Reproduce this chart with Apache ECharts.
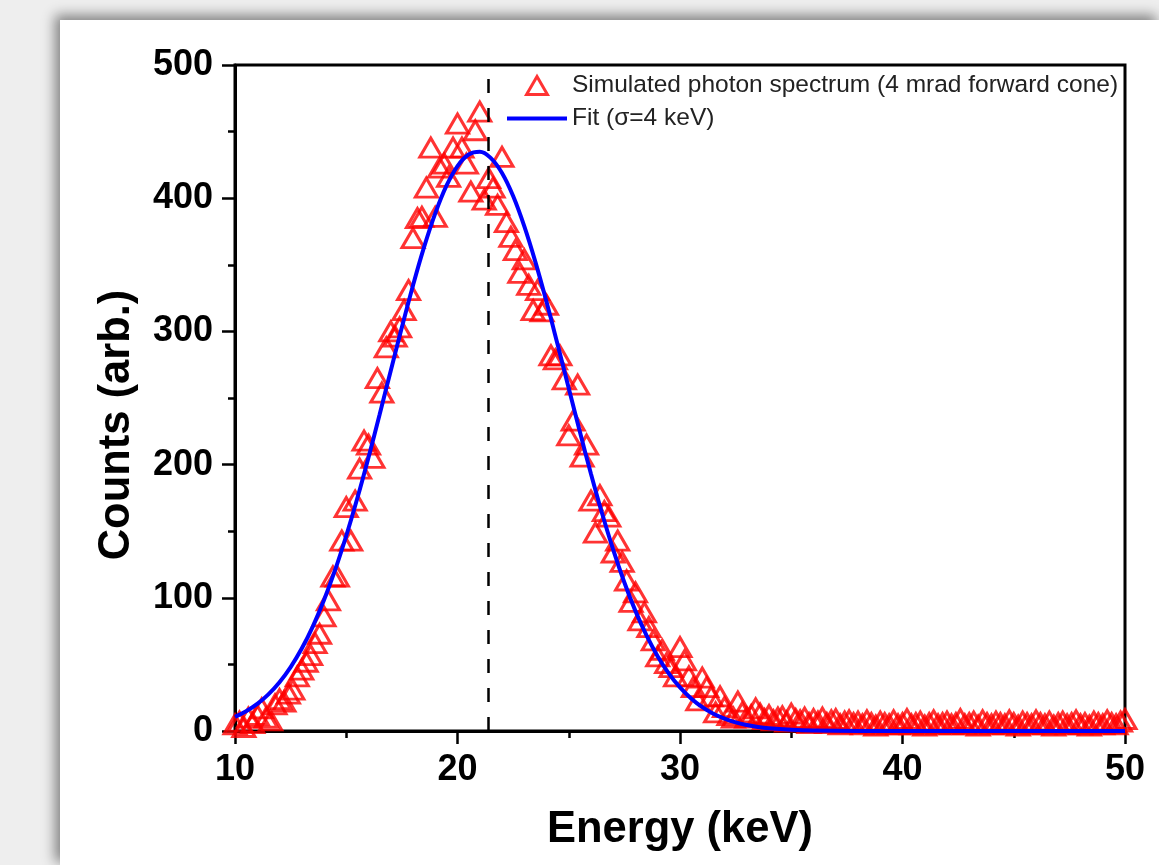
<!DOCTYPE html>
<html>
<head>
<meta charset="utf-8">
<title>Photon spectrum</title>
<script src="https://cdn.jsdelivr.net/npm/echarts@6/dist/echarts.min.js"></script>
<style>
    html, body { margin: 0; padding: 0; background: #eeeeee; overflow: hidden; }
    #panel {
        position: absolute; left: 60px; top: 20px; width: 1099px; height: 845px;
        background: #ffffff;
        box-shadow: -4px -4px 12px 1px rgba(0, 0, 0, 0.45);
    }
    #main { position: absolute; left: 0; top: 0; width: 1159px; height: 865px; }
</style>
</head>
<body>
<div id="panel"></div>
<div id="main"></div>
<script>
// 模拟光子能谱 (每 0.2 keV 一个点)
var energy = [
    10.0, 10.2, 10.4, 10.6, 10.8, 11.0, 11.2, 11.4, 11.6, 11.8,
    12.0, 12.2, 12.4, 12.6, 12.8, 13.0, 13.2, 13.4, 13.6, 13.8,
    14.0, 14.2, 14.4, 14.6, 14.8, 15.0, 15.2, 15.4, 15.6, 15.8,
    16.0, 16.2, 16.4, 16.6, 16.8, 17.0, 17.2, 17.4, 17.6, 17.8,
    18.0, 18.2, 18.4, 18.6, 18.8, 19.0, 19.2, 19.4, 19.6, 19.8,
    20.0, 20.2, 20.4, 20.6, 20.8, 21.0, 21.2, 21.4, 21.6, 21.8,
    22.0, 22.2, 22.4, 22.6, 22.8, 23.0, 23.2, 23.4, 23.6, 23.8,
    24.0, 24.2, 24.4, 24.6, 24.8, 25.0, 25.2, 25.4, 25.6, 25.8,
    26.0, 26.2, 26.4, 26.6, 26.8, 27.0, 27.2, 27.4, 27.6, 27.8,
    28.0, 28.2, 28.4, 28.6, 28.8, 29.0, 29.2, 29.4, 29.6, 29.8,
    30.0, 30.2, 30.4, 30.6, 30.8, 31.0, 31.2, 31.4, 31.6, 31.8,
    32.0, 32.2, 32.4, 32.6, 32.8, 33.0, 33.2, 33.4, 33.6, 33.8,
    34.0, 34.2, 34.4, 34.6, 34.8, 35.0, 35.2, 35.4, 35.6, 35.8,
    36.0, 36.2, 36.4, 36.6, 36.8, 37.0, 37.2, 37.4, 37.6, 37.8,
    38.0, 38.2, 38.4, 38.6, 38.8, 39.0, 39.2, 39.4, 39.6, 39.8,
    40.0, 40.2, 40.4, 40.6, 40.8, 41.0, 41.2, 41.4, 41.6, 41.8,
    42.0, 42.2, 42.4, 42.6, 42.8, 43.0, 43.2, 43.4, 43.6, 43.8,
    44.0, 44.2, 44.4, 44.6, 44.8, 45.0, 45.2, 45.4, 45.6, 45.8,
    46.0, 46.2, 46.4, 46.6, 46.8, 47.0, 47.2, 47.4, 47.6, 47.8,
    48.0, 48.2, 48.4, 48.6, 48.8, 49.0, 49.2, 49.4, 49.6, 49.8,
    50.0
];
var counts = [
    5, 7, 3, 10, 6, 12, 17, 10, 8, 20,
    24, 22, 28, 31, 41, 46, 52, 57, 66, 73,
    86, 98, 116, 116, 143, 168, 143, 173, 197, 218,
    215, 205, 265, 254, 288, 300, 296, 303, 316, 331,
    370, 385, 386, 408, 438, 386, 423, 426, 416, 438,
    456, 438, 426, 405, 451, 465, 399, 415, 408, 395,
    431, 382, 371, 361, 344, 354, 335, 316, 331, 315,
    320, 282, 279, 282, 264, 222, 233, 260, 206, 215,
    173, 149, 177, 165, 161, 134, 143, 127, 113, 97,
    104, 83, 89, 78, 68, 56, 61, 51, 48, 41,
    63, 53, 41, 33, 23, 40, 33, 26, 14, 26,
    18, 12, 10, 22, 14, 10, 12, 17, 13, 9,
    12, 8, 10, 11, 7, 13, 9, 8, 10, 6,
    9, 7, 10, 6, 8, 9, 5, 7, 8, 6,
    7, 5, 8, 6, 4, 7, 6, 5, 8, 5,
    6, 9, 5, 6, 7, 4, 6, 8, 5, 6,
    7, 5, 6, 9, 5, 6, 7, 4, 8, 6,
    5, 7, 6, 5, 8, 6, 4, 7, 6, 5,
    8, 6, 5, 7, 4, 6, 7, 5, 6, 8,
    5, 6, 4, 7, 6, 5, 8, 6, 5, 7,
    9
];

// 拟合曲线 (σ=4 keV)
var fitEnergy = [
    10, 10.5, 11, 11.5, 12, 12.5, 13, 13.5, 14, 14.5,
    15, 15.5, 16, 16.5, 17, 17.5, 18, 18.5, 19, 19.5,
    20, 20.5, 21, 21.5, 22, 22.5, 23, 23.5, 24, 24.5,
    25, 25.5, 26, 26.5, 27, 27.5, 28, 28.5, 29, 29.5,
    30, 30.5, 31, 31.5, 32, 32.5, 33, 33.5, 34,
    35, 36, 38, 40, 45, 50
];
var fitCounts = [
    10.6, 14.8, 20.3, 27.5, 36.6, 48.0, 61.9, 78.6, 98.3, 120.9,
    146.6, 174.9, 205.4, 237.6, 270.5, 303.1, 334.5, 363.4, 388.6, 409.2,
    424.1, 432.8, 434.9, 430.1, 418.9, 401.6, 379.0, 352.2, 322.2, 290.1,
    257.3, 224.6, 193.0, 163.3, 136.0, 111.5, 90.0, 71.6, 56.0, 43.1,
    32.7, 24.4, 17.9, 13.0, 9.3, 6.5, 4.5, 3.0, 2.0,
    0.9, 0.3, 0, 0, 0, 0
];

// 虚线位置
var peakEnergy = 21.4;

var xTicks = [10, 20, 30, 40, 50];
var yTicks = [0, 100, 200, 300, 400, 500];

var seriesNames = ['Simulated photon spectrum (4 mrad forward cone)', 'Fit (\u03c3=4 keV)'];

var fontName = '"Liberation Sans", Arial, sans-serif';

var chart = echarts.init(document.getElementById('main'), null, {
    width: 1159,
    height: 865
});

var option = {
    backgroundColor: 'transparent',
    animation: false,
    grid: {
        left: 235,
        right: 34,
        top: 65,
        bottom: 134,
        show: true,
        borderColor: '#000',
        borderWidth: 3,
        backgroundColor: 'transparent'
    },
    legend: {
        orient: 'vertical',
        left: 502,
        top: 68,
        itemWidth: 60,
        itemHeight: 18,
        itemGap: 8,
        symbolKeepAspect: true,
        textStyle: {
            fontFamily: fontName,
            fontSize: 24.5,
            color: '#222'
        },
        data: [{
            name: seriesNames[0],
            icon: 'path://M0,19L11,0L22,19Z',
            itemStyle: { color: 'rgba(255,255,255,0)', borderColor: '#ff0000', borderWidth: 3 }
        }, {
            name: seriesNames[1],
            icon: 'path://M0,0H60V4H0Z',
            itemStyle: { color: '#0000ff', borderWidth: 0 }
        }]
    },
    xAxis: {
        type: 'value',
        min: xTicks[0],
        max: xTicks[xTicks.length - 1],
        interval: xTicks[1] - xTicks[0],
        name: 'Energy (keV)',
        nameLocation: 'middle',
        nameGap: 77,
        nameTextStyle: {
            fontFamily: fontName,
            fontSize: 43.5,
            fontWeight: 'bold',
            color: '#000'
        },
        axisLine: { lineStyle: { color: '#000', width: 3 } },
        axisTick: { length: 13, lineStyle: { color: '#000', width: 2.5 } },
        minorTick: { show: true, splitNumber: 2, length: 7, lineStyle: { color: '#000', width: 2.5 } },
        splitLine: { show: false },
        axisLabel: {
            margin: 21,
            fontFamily: fontName,
            fontSize: 36,
            fontWeight: 'bold',
            color: '#000'
        }
    },
    yAxis: {
        type: 'value',
        min: yTicks[0],
        max: yTicks[yTicks.length - 1],
        interval: yTicks[1] - yTicks[0],
        name: 'Counts (arb.)',
        nameLocation: 'middle',
        nameGap: 96,
        nameTextStyle: {
            fontFamily: fontName,
            fontSize: 43.5,
            fontWeight: 'bold',
            color: '#000',
            padding: [0, 54, 0, 0]
        },
        axisLine: { show: true, lineStyle: { color: '#000', width: 3 } },
        axisTick: { show: true, length: 13, lineStyle: { color: '#000', width: 2.5 } },
        minorTick: { show: true, splitNumber: 2, length: 7, lineStyle: { color: '#000', width: 2.5 } },
        splitLine: { show: false },
        axisLabel: {
            margin: 22,
            fontFamily: fontName,
            fontSize: 36,
            fontWeight: 'bold',
            color: '#000'
        }
    },
    series: [{
        name: seriesNames[0],
        type: 'scatter',
        symbol: 'triangle',
        symbolSize: [22, 19],
        itemStyle: {
            color: 'rgba(255,255,255,0)',
            borderColor: '#ff0000',
            borderWidth: 3
        },
        data: energy.map(function (e, i) { return [e, counts[i]]; }),
        z: 2
    }, {
        name: seriesNames[1],
        type: 'line',
        symbol: 'none',
        smooth: 0.4,
        lineStyle: { color: '#0000ff', width: 4 },
        itemStyle: { color: '#0000ff' },
        data: fitEnergy.map(function (e, i) { return [e, fitCounts[i]]; }),
        markLine: {
            silent: true,
            symbol: 'none',
            label: { show: false },
            lineStyle: { color: '#000', width: 2.5, type: [14, 15] },
            data: [{ xAxis: peakEnergy }]
        },
        z: 3
    }]
};

chart.setOption(option);
</script>
</body>
</html>
